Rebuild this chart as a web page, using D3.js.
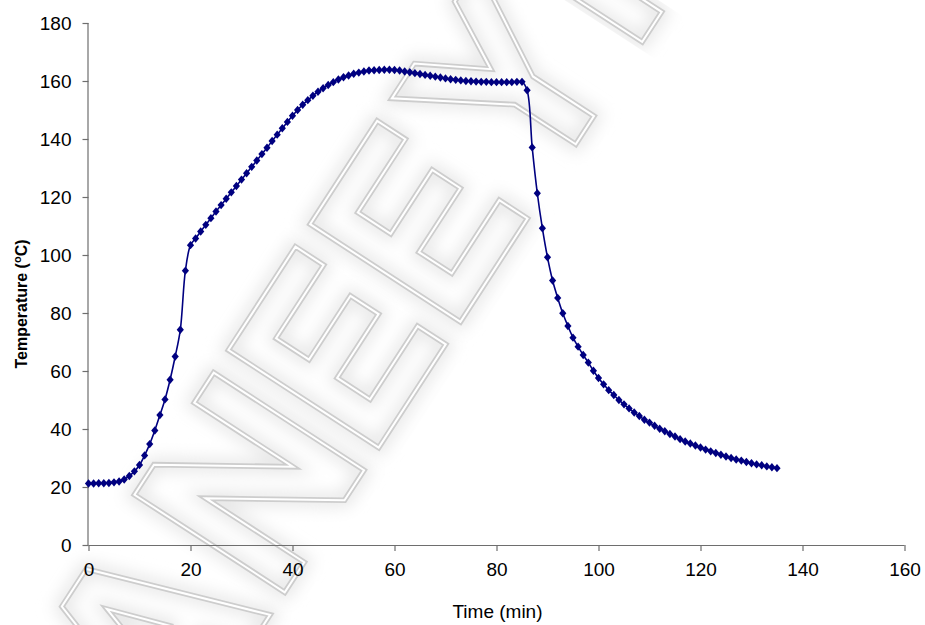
<!DOCTYPE html>
<html>
<head>
<meta charset="utf-8">
<script src="https://cdn.jsdelivr.net/npm/d3@7"></script>
<style>
  body { margin: 0; background: #ffffff; }
  svg { display: block; }
</style>
</head>
<body>
<svg id="chart" width="925" height="625"></svg>
<script>
// Sampling times (min)
const timeMin = [
  0,1,2,3,4,5,6,7,8,9,10,11,12,13,14,15,16,17,18,19,
  20,21,22,23,24,25,26,27,28,29,30,31,32,33,34,35,36,37,38,39,
  40,41,42,43,44,45,46,47,48,49,50,51,52,53,54,55,56,57,58,59,
  60,61,62,63,64,65,66,67,68,69,70,71,72,73,74,75,76,77,78,79,
  80,81,82,83,84,85,86,87,88,89,90,91,92,93,94,95,96,97,98,99,
  100,101,102,103,104,105,106,107,108,109,110,111,112,113,114,115,116,117,118,119,
  120,121,122,123,124,125,126,127,128,129,130,131,132,133,134,135
];

// Measured temperature (°C) at each sampling time
const temperatureC = [
  21.2,21.2,21.3,21.3,21.4,21.6,21.9,22.6,23.8,25.4,27.6,30.9,34.8,39.5,44.8,50.2,57.0,65.0,74.2,94.6,
  103.4,105.7,108.1,110.4,112.7,115.0,117.2,119.4,121.6,123.8,126.0,128.2,130.4,132.6,134.8,137.0,139.3,141.5,143.7,145.9,
  148.0,150.0,151.8,153.4,154.9,156.3,157.5,158.6,159.6,160.5,161.3,161.9,162.5,162.9,163.3,163.6,163.7,163.8,163.9,163.9,
  163.8,163.6,163.3,163.0,162.7,162.4,162.1,161.8,161.5,161.2,160.9,160.6,160.4,160.2,160.0,159.9,159.8,159.7,159.7,159.6,
  159.6,159.6,159.6,159.6,159.7,159.7,156.8,137.1,121.3,109.2,99.2,91.2,85.2,79.9,75.5,71.5,68.4,65.5,62.9,60.1,
  57.6,55.4,53.4,51.7,50.0,48.5,47.1,45.7,44.5,43.2,42.2,41.1,40.1,39.2,38.3,37.4,36.5,35.7,35.0,34.3,
  33.6,32.9,32.3,31.7,31.1,30.5,30.0,29.5,29.1,28.6,28.2,27.8,27.5,27.1,26.8,26.5
];

const xTicks = [0, 20, 40, 60, 80, 100, 120, 140, 160];
const yTicks = [0, 20, 40, 60, 80, 100, 120, 140, 160, 180];

const points = timeMin.map((t, i) => ({ t, v: temperatureC[i] }));

const svg = d3.select("#chart");
const plot = { left: 88.5, right: 904.5, top: 23, bottom: 545 };

const x = d3.scaleLinear().domain([0, 160]).range([plot.left, plot.right]);
const y = d3.scaleLinear().domain([0, 180]).range([plot.bottom, plot.top]);

const fontFamily = "'Liberation Sans', Arial, Helvetica, sans-serif";

// Background watermark: outlined block glyphs laid along a diagonal
const defs = svg.append("defs");
defs.append("filter").attr("id", "soft")
  .attr("x", "-20%").attr("y", "-20%").attr("width", "140%").attr("height", "140%")
  .append("feGaussianBlur").attr("stdDeviation", 7);

// Glyph outlines in a 160-unit-tall box, y pointing up
const glyphs = [
  { w: 150, rings: [
    [[0,0],[55,160],[95,160],[150,0],[115,0],[103,40],[47,40],[35,0]],
    [[57,70],[93,70],[75,125]] ] },
  { w: 130, rings: [
    [[0,0],[0,160],[32,160],[98,55],[98,160],[130,160],[130,0],[98,0],[32,105],[32,0]] ] },
  { w: 110, rings: [
    [[0,0],[0,160],[110,160],[110,130],[32,130],[32,95],[100,95],[100,65],[32,65],[32,30],[110,30],[110,0]] ] },
  { w: 110, rings: [
    [[0,0],[0,160],[110,160],[110,130],[32,130],[32,95],[100,95],[100,65],[32,65],[32,30],[110,30],[110,0]] ] },
  { w: 140, rings: [
    [[55,0],[55,65],[0,160],[37,160],[70,100],[103,160],[140,160],[85,65],[85,0]] ] },
  { w: 32, rings: [
    [[0,0],[0,160],[32,160],[32,0]] ] }
];
let cursor = 0;
const glyphPaths = [];
glyphs.forEach(g => {
  const dx = cursor;
  const d = g.rings.map(r => "M" + r.map(p => `${p[0] + dx},${-p[1]}`).join("L") + "Z").join("");
  glyphPaths.push(d);
  cursor += g.w + 24;
});
const totalW = cursor - 24;

const wm = svg.append("g")
  .attr("transform", `translate(345,335) rotate(-57) scale(1.12) translate(${-totalW / 2},80)`);
const wmLayers = [
  { stroke: "#e6e6e6", width: 12, filter: "url(#soft)" },
  { stroke: "#cdcdcd", width: 5, filter: null },
  { stroke: "#ffffff", width: 1.8, filter: null }
];
wmLayers.forEach(layer => {
  wm.append("g")
    .selectAll("path")
    .data(glyphPaths)
    .join("path")
    .attr("d", d => d)
    .attr("fill", "none")
    .attr("stroke", layer.stroke)
    .attr("stroke-width", layer.width)
    .attr("stroke-linejoin", "miter")
    .attr("filter", layer.filter);
});

// Axes
const axisColor = "#6e6e6e";

const xAxis = svg.append("g")
  .attr("transform", `translate(0,${plot.bottom})`)
  .call(d3.axisBottom(x).tickValues(xTicks).tickSize(6).tickPadding(12).tickFormat(d3.format("d")));

const yAxis = svg.append("g")
  .attr("transform", `translate(${plot.left},0)`)
  .call(d3.axisLeft(y).tickValues(yTicks).tickSize(6).tickPadding(11).tickFormat(d3.format("d")));

[xAxis, yAxis].forEach(g => {
  g.select(".domain").attr("stroke", axisColor).attr("stroke-width", 1.2);
  g.selectAll(".tick line").attr("stroke", axisColor).attr("stroke-width", 1.2);
  g.selectAll(".tick text")
    .attr("fill", "#000")
    .style("font-family", fontFamily)
    .style("font-size", "19px");
});
// Domain paths without the outer end ticks
xAxis.select(".domain").attr("d", `M${plot.left},0.5H${plot.right}`);
yAxis.select(".domain").attr("d", `M-0.5,${plot.top}V${plot.bottom}`);

// Series line (smoothed) and diamond markers
const line = d3.line()
  .x(d => x(d.t))
  .y(d => y(d.v))
  .curve(d3.curveCatmullRom.alpha(0.5));

svg.append("path")
  .datum(points)
  .attr("fill", "none")
  .attr("stroke", "#000080")
  .attr("stroke-width", 1.6)
  .attr("d", line);

const diamond = "M0,-4.2L3.6,0L0,4.2L-3.6,0Z";
svg.append("g")
  .selectAll("path")
  .data(points)
  .join("path")
  .attr("d", diamond)
  .attr("transform", d => `translate(${x(d.t)},${y(d.v)})`)
  .attr("fill", "#000080");

// Axis titles
svg.append("text")
  .attr("x", (plot.left + plot.right) / 2 + 1)
  .attr("y", 618)
  .attr("text-anchor", "middle")
  .style("font-family", fontFamily)
  .style("font-size", "19px")
  .attr("fill", "#000")
  .text("Time (min)");

const yTitle = svg.append("text")
  .attr("transform", "translate(27,304) rotate(-90)")
  .attr("text-anchor", "middle")
  .style("font-family", fontFamily)
  .style("font-size", "16px")
  .style("font-weight", "bold")
  .attr("fill", "#000");
yTitle.append("tspan").text("Temperature (");
yTitle.append("tspan").text("o").attr("baseline-shift", "super").style("font-size", "11px");
yTitle.append("tspan").text("C)");
</script>
</body>
</html>
